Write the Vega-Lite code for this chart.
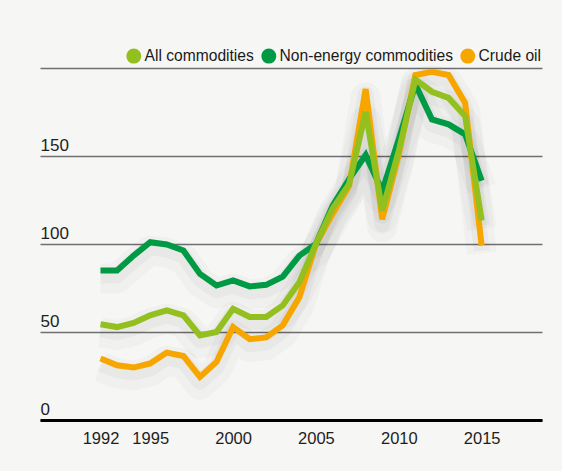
{
  "$schema": "https://vega.github.io/schema/vega-lite/v6.json",
  "width": 502,
  "height": 352,
  "autosize": {"type": "none"},
  "padding": {"left": 40, "top": 68, "right": 20, "bottom": 51},
  "background": "#f6f6f4",
  "config": {
    "view": {"stroke": null},
    "font": "Liberation Sans, Arial, sans-serif",
    "axis": {"labelFont": "Liberation Sans, Arial, sans-serif", "labelColor": "#1e1e1e", "labelFontSize": 16.5, "title": null}
  },
  "data": {
    "values": [
      {"year": 1992, "series": "All commodities", "value": 54.4},
      {"year": 1993, "series": "All commodities", "value": 52.8},
      {"year": 1994, "series": "All commodities", "value": 55.1},
      {"year": 1995, "series": "All commodities", "value": 59.5},
      {"year": 1996, "series": "All commodities", "value": 62.3},
      {"year": 1997, "series": "All commodities", "value": 59.5},
      {"year": 1998, "series": "All commodities", "value": 48.1},
      {"year": 1999, "series": "All commodities", "value": 50},
      {"year": 2000, "series": "All commodities", "value": 63.2},
      {"year": 2001, "series": "All commodities", "value": 58.5},
      {"year": 2002, "series": "All commodities", "value": 58.5},
      {"year": 2003, "series": "All commodities", "value": 65.1},
      {"year": 2004, "series": "All commodities", "value": 78.3},
      {"year": 2005, "series": "All commodities", "value": 100},
      {"year": 2006, "series": "All commodities", "value": 120},
      {"year": 2007, "series": "All commodities", "value": 134},
      {"year": 2008, "series": "All commodities", "value": 175},
      {"year": 2009, "series": "All commodities", "value": 118.9},
      {"year": 2010, "series": "All commodities", "value": 152.9},
      {"year": 2011, "series": "All commodities", "value": 193.4},
      {"year": 2012, "series": "All commodities", "value": 186.5},
      {"year": 2013, "series": "All commodities", "value": 183},
      {"year": 2014, "series": "All commodities", "value": 172.7},
      {"year": 2015, "series": "All commodities", "value": 113.3},
      {"year": 1992, "series": "Non-energy commodities", "value": 85},
      {"year": 1993, "series": "Non-energy commodities", "value": 85},
      {"year": 1994, "series": "Non-energy commodities", "value": 93.4},
      {"year": 1995, "series": "Non-energy commodities", "value": 101},
      {"year": 1996, "series": "Non-energy commodities", "value": 99.7},
      {"year": 1997, "series": "Non-energy commodities", "value": 96.3},
      {"year": 1998, "series": "Non-energy commodities", "value": 83},
      {"year": 1999, "series": "Non-energy commodities", "value": 76.4},
      {"year": 2000, "series": "Non-energy commodities", "value": 79.3},
      {"year": 2001, "series": "Non-energy commodities", "value": 75.9},
      {"year": 2002, "series": "Non-energy commodities", "value": 76.8},
      {"year": 2003, "series": "Non-energy commodities", "value": 81.5},
      {"year": 2004, "series": "Non-energy commodities", "value": 93.4},
      {"year": 2005, "series": "Non-energy commodities", "value": 100},
      {"year": 2006, "series": "Non-energy commodities", "value": 121.7},
      {"year": 2007, "series": "Non-energy commodities", "value": 136.9},
      {"year": 2008, "series": "Non-energy commodities", "value": 150.5},
      {"year": 2009, "series": "Non-energy commodities", "value": 130.2},
      {"year": 2010, "series": "Non-energy commodities", "value": 159.5},
      {"year": 2011, "series": "Non-energy commodities", "value": 190.6},
      {"year": 2012, "series": "Non-energy commodities", "value": 170.8},
      {"year": 2013, "series": "Non-energy commodities", "value": 168},
      {"year": 2014, "series": "Non-energy commodities", "value": 162.3},
      {"year": 2015, "series": "Non-energy commodities", "value": 135.9},
      {"year": 1992, "series": "Crude oil", "value": 34.9},
      {"year": 1993, "series": "Crude oil", "value": 31.1},
      {"year": 1994, "series": "Crude oil", "value": 29.8},
      {"year": 1995, "series": "Crude oil", "value": 32.1},
      {"year": 1996, "series": "Crude oil", "value": 38.3},
      {"year": 1997, "series": "Crude oil", "value": 36.4},
      {"year": 1998, "series": "Crude oil", "value": 24.5},
      {"year": 1999, "series": "Crude oil", "value": 33},
      {"year": 2000, "series": "Crude oil", "value": 52.8},
      {"year": 2001, "series": "Crude oil", "value": 45.9},
      {"year": 2002, "series": "Crude oil", "value": 46.9},
      {"year": 2003, "series": "Crude oil", "value": 53.8},
      {"year": 2004, "series": "Crude oil", "value": 69.8},
      {"year": 2005, "series": "Crude oil", "value": 100},
      {"year": 2006, "series": "Crude oil", "value": 117},
      {"year": 2007, "series": "Crude oil", "value": 133},
      {"year": 2008, "series": "Crude oil", "value": 188},
      {"year": 2009, "series": "Crude oil", "value": 114},
      {"year": 2010, "series": "Crude oil", "value": 151},
      {"year": 2011, "series": "Crude oil", "value": 196},
      {"year": 2012, "series": "Crude oil", "value": 197.8},
      {"year": 2013, "series": "Crude oil", "value": 196},
      {"year": 2014, "series": "Crude oil", "value": 180.2},
      {"year": 2015, "series": "Crude oil", "value": 99.1}
    ]
  },
  "encoding": {
    "x": {
      "field": "year",
      "type": "quantitative",
      "scale": {"domain": [1988.35, 2018.64], "nice": false, "zero": false},
      "axis": {
        "values": [1992, 1995, 2000, 2005, 2010, 2015],
        "format": "d",
        "grid": false,
        "ticks": false,
        "domain": true,
        "domainColor": "#000000",
        "domainWidth": 3,
        "labelPadding": 10,
        "labelBaseline": "top",
        "zindex": 2
      }
    },
    "y": {
      "field": "value",
      "type": "quantitative",
      "scale": {"domain": [0, 200], "nice": false},
      "axis": {
        "values": [0, 50, 100, 150, 200],
        "labelExpr": "datum.value == 200 ? '' : datum.label",
        "grid": true,
        "gridColor": "#6f6f6f",
        "gridWidth": 1.5,
        "domain": false,
        "ticks": false,
        "labelAlign": "left",
        "labelBaseline": "alphabetic",
        "labelPadding": 0,
        "labelOffset": -6,
        "labelFontSize": 17
      }
    }
  },
  "layer": [
    {
      "mark": {"type": "line", "stroke": "#000000", "strokeWidth": 30, "opacity": 0.022, "strokeJoin": "round", "yOffset": 8},
      "encoding": {"detail": {"field": "series"}}
    },
    {
      "mark": {"type": "line", "stroke": "#000000", "strokeWidth": 16, "opacity": 0.03, "strokeJoin": "round", "yOffset": 5},
      "encoding": {"detail": {"field": "series"}}
    },
    {
      "transform": [{"filter": "datum.series == 'Crude oil'"}],
      "mark": {"type": "line", "strokeWidth": 6, "strokeJoin": "miter", "strokeCap": "butt"},
      "encoding": {"color": {"field": "series", "type": "nominal"}}
    },
    {
      "transform": [{"filter": "datum.series == 'Non-energy commodities'"}],
      "mark": {"type": "line", "strokeWidth": 6, "strokeJoin": "miter", "strokeCap": "butt"},
      "encoding": {"color": {"field": "series", "type": "nominal"}}
    },
    {
      "transform": [{"filter": "datum.series == 'All commodities'"}],
      "mark": {"type": "line", "strokeWidth": 6, "strokeJoin": "miter", "strokeCap": "butt"},
      "encoding": {
        "color": {
          "field": "series",
          "type": "nominal",
          "scale": {
            "domain": ["All commodities", "Non-energy commodities", "Crude oil"],
            "range": ["#93c01f", "#009a44", "#f7a600"]
          },
          "legend": {
            "title": null,
            "orient": "none",
            "direction": "horizontal",
            "legendX": 86,
            "legendY": -20,
            "padding": 0,
            "symbolType": "circle",
            "symbolSize": 225,
            "symbolStrokeWidth": 0,
            "labelFont": "Liberation Sans, Arial, sans-serif",
            "labelFontSize": 15.6,
            "labelColor": "#1a1a1a",
            "labelOffset": 3,
            "labelLimit": 300,
            "columnPadding": 7,
            "encode": {
              "symbols": {"update": {"fill": {"scale": "color", "field": "value"}, "strokeWidth": {"value": 0}, "opacity": {"value": 1}}}
            }
          }
        }
      }
    }
  ]
}
